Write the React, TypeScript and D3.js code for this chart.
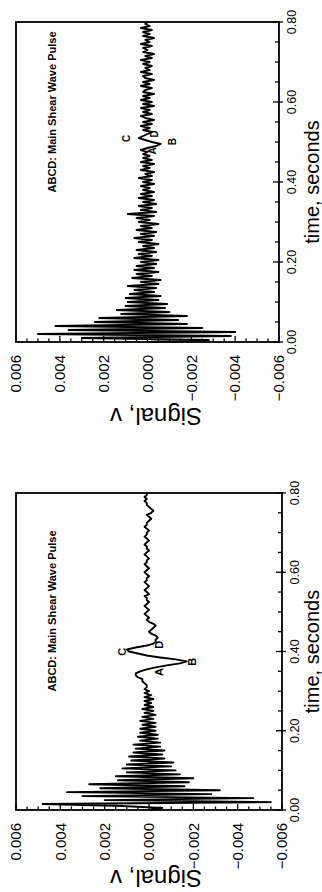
import { useEffect, useRef } from 'react';
import * as d3 from 'd3';

// sampling interval of both records, seconds
const sampleStep = 0.005;

// signal values in units of 1e-4 V, one every 5 ms from 0.00 to 0.80 s
const signalTopE4 = [
  0, -28, 30, -38, 50, -40, 36, -25, 42, -18, 24, -14, 22, -18, 12, -10, 14, -8, 10, -9,
  9, -5, 10, -6, 8, -3, 6, -4, 9, -5, 3, -6, 7, -2, 5, -5, 6, -3, 5, -4,
  3, -5, 6, -2, 4, -4, 5, -3, 2, -5, 4, -2, 6, -3, 3, -4, 5, -2, 3, -5,
  4, -1, 5, -3, 9, -4, 3, -2, 4, -4, 2, -3, 4, -2, 3, -3, 2, -1, 3, -3,
  2, -2, 4, -2, 1, -3, 3, -1, 2, -3, 3, -2, 2, -1, 2, 0, 3, 0, -4, -6,
  -2, 1, 4, 2, 0, -2, 2, -1, 3, -2, 2, -3, 1, 3, -2, 2, -1, 3, -3, 2,
  -2, 3, -1, 2, -3, 2, 1, -2, 3, -1, 2, -3, 1, 2, -2, 3, -1, 1, -2, 2,
  -1, 3, -2, 1, -3, 2, 0, 2, -2, 3, -1, 1, -3, 2, -1, 2, -2, 3, -1, 1,
  0,
];

const signalBottomE4 = [
  0, -6, 12, 48, -55, 20, -47, 30, -28, 37, -32, 22, -16, 27, -18, 14, -20, 15, -14, 10,
  -12, 12, -10, 10, -11, 8, -7, 9, -6, 7, -7, 6, -5, 7, -5, 4, -4, 5, -4, 4,
  -3, 4, -3, 3, -3, 4, -2, 3, -3, 2, -2, 3, -2, 2, -1, 2, -2, 2, -1, 2,
  0, 2, 1, 1, 2, 3, 3, 5, 6, 6, 4, 1, -3, -8, -14, -17, -12, -5, 1, 5,
  9, 10, 6, 1, -2, -3, -3, -4, -3, -1, 0, -1, -2, -3, -2, 0, 1, 0, 1, 2,
  1, 0, 1, 2, 1, 0, 1, 1, 2, 0, 1, 2, 1, 0, 1, 2, 1, 1, 0, 1,
  2, 1, 0, 1, 2, 1, 1, 0, 1, 2, 1, 0, 1, 1, 2, 1, 0, 1, 2, 1,
  1, 0, 1, 2, 1, 1, 0, -1, 0, 1, -1, -2, -1, 0, 1, 1, 2, 1, 2, 1,
  1,
];

// pulse letters: [label, time s, signal V]
const marksTop: [string, number, number][] = [
  ['A', 0.478, -0.00025],
  ['B', 0.501, -0.00116],
  ['C', 0.509, 0.00098],
  ['D', 0.52, -0.0003],
];
const marksBottom: [string, number, number][] = [
  ['A', 0.348, -0.00045],
  ['B', 0.374, -0.00193],
  ['C', 0.399, 0.00121],
  ['D', 0.417, -0.00045],
];

const timeTicks = [0, 0.2, 0.4, 0.6, 0.8];
const timeTickLabels = ['0.00', '0.20', '0.40', '0.60', '0.80'];
const signalTicks = [0.006, 0.004, 0.002, 0, -0.002, -0.004, -0.006];
const signalTickLabels = ['0.006', '0.004', '0.002', '0.000', '\u22120.002', '\u22120.004', '\u22120.006'];

const titleText = 'ABCD: Main Shear Wave Pulse';
const xTitle = 'time, seconds';
const yTitle = 'Signal, v';

interface PanelSpec {
  values: number[];
  marks: [string, number, number][];
  top: number;
  bottom: number;
  left: number;
  right: number;
  titleY: number;
  yTitleBase: number;
  markSize: number;
}

const panels: PanelSpec[] = [
  { values: signalTopE4, marks: marksTop, top: 22, bottom: 342, left: 16, right: 279, titleY: 112, yTitleBase: 408, markSize: 10 },
  { values: signalBottomE4, marks: marksBottom, top: 493, bottom: 810, left: 16, right: 282, titleY: 611, yTitleBase: 870, markSize: 11 },
];

const font = '"Liberation Sans", Arial, sans-serif';

export default function App() {
  const svgRef = useRef<SVGSVGElement>(null);

  useEffect(() => {
    if (!svgRef.current) return;
    const svg = d3.select(svgRef.current);
    svg.selectAll('*').remove();

    svg.append('rect').attr('width', 322).attr('height', 892).attr('fill', '#fff');

    panels.forEach((p) => {
      const g = svg.append('g');
      const points = p.values.map((v, i) => ({ t: i * sampleStep, v: v * 1e-4 }));

      // time runs up the page, positive signal to the left (page is turned)
      const y = d3.scaleLinear().domain([0, 0.8]).range([p.bottom, p.top]);
      const x = d3.scaleLinear().domain([0.006, -0.006]).range([p.left, p.right]);

      const isMajor = (list: number[], d: number) => list.some((s) => Math.abs(s - d) < 1e-9);

      // signal axis ticks (bottom edge)
      const sigMinor = d3.range(-12, 13).map((k) => k * 0.0005);
      g.selectAll('.sminor')
        .data(sigMinor)
        .enter()
        .append('line')
        .attr('x1', (d) => x(d))
        .attr('x2', (d) => x(d))
        .attr('y1', p.bottom)
        .attr('y2', (d) => (isMajor(signalTicks, d) ? p.bottom - 6 : p.bottom - 3.5))
        .attr('stroke', '#000')
        .attr('stroke-width', 1.3);

      // time axis ticks (right edge)
      const timeMinor = d3.range(0, 17).map((k) => k * 0.05);
      g.selectAll('.tminor')
        .data(timeMinor)
        .enter()
        .append('line')
        .attr('y1', (d) => y(d))
        .attr('y2', (d) => y(d))
        .attr('x1', (d) => (isMajor(timeTicks, d) ? p.right + 4 : p.right))
        .attr('x2', (d) => (isMajor(timeTicks, d) ? p.right - 6 : p.right - 4))
        .attr('stroke', '#000')
        .attr('stroke-width', 1.3);

      // frame
      g.append('rect')
        .attr('x', p.left)
        .attr('y', p.top)
        .attr('width', p.right - p.left)
        .attr('height', p.bottom - p.top)
        .attr('fill', 'none')
        .attr('stroke', '#000')
        .attr('stroke-width', 1.8);

      // trace
      const line = d3
        .line<{ t: number; v: number }>()
        .x((d) => x(d.v))
        .y((d) => y(d.t));
      g.append('path')
        .datum(points)
        .attr('fill', 'none')
        .attr('stroke', '#000')
        .attr('stroke-width', 1.9)
        .attr('stroke-linejoin', 'round')
        .attr('d', line);

      // signal tick labels
      g.selectAll('.slab')
        .data(signalTicks)
        .enter()
        .append('text')
        .attr('transform', (d) => `translate(${x(d)},${p.bottom + 13}) rotate(-90)`)
        .attr('text-anchor', 'end')
        .attr('dy', '0.35em')
        .attr('font-family', font)
        .attr('font-size', 15)
        .text((_, i) => signalTickLabels[i]);

      // time tick labels
      g.selectAll('.tlab')
        .data(timeTicks)
        .enter()
        .append('text')
        .attr('transform', (d) => `translate(${p.right + 13},${y(d)}) rotate(-90)`)
        .attr('text-anchor', 'middle')
        .attr('dy', '0.35em')
        .attr('font-family', font)
        .attr('font-size', 12.5)
        .text((_, i) => timeTickLabels[i]);

      // axis titles
      g.append('text')
        .attr('transform', `translate(319,${(p.top + p.bottom) / 2}) rotate(-90)`)
        .attr('text-anchor', 'middle')
        .attr('font-family', font)
        .attr('font-size', 20)
        .text(xTitle);

      g.append('text')
        .attr('transform', `translate(156,${p.yTitleBase}) rotate(180)`)
        .attr('text-anchor', 'middle')
        .attr('font-family', font)
        .attr('font-size', 24)
        .text(yTitle);

      // panel note, condensed bold
      g.append('text')
        .attr('transform', `translate(52,${p.titleY}) rotate(-90)`)
        .attr('text-anchor', 'middle')
        .attr('dy', '0.35em')
        .attr('font-family', font)
        .attr('font-weight', 'bold')
        .attr('font-size', 11)
        .attr('textLength', 161)
        .attr('lengthAdjust', 'spacingAndGlyphs')
        .text(titleText);

      // pulse letters
      g.selectAll('.mark')
        .data(p.marks)
        .enter()
        .append('text')
        .attr('transform', (d) => `translate(${x(d[2])},${y(d[1])}) rotate(-90)`)
        .attr('text-anchor', 'middle')
        .attr('dy', '0.35em')
        .attr('font-family', font)
        .attr('font-weight', 'bold')
        .attr('font-size', p.markSize)
        .text((d) => d[0]);
    });
  }, []);

  return (
    <svg
      ref={svgRef}
      width={322}
      height={892}
      style={{ position: 'absolute', left: 0, top: 0, display: 'block' }}
    />
  );
}
